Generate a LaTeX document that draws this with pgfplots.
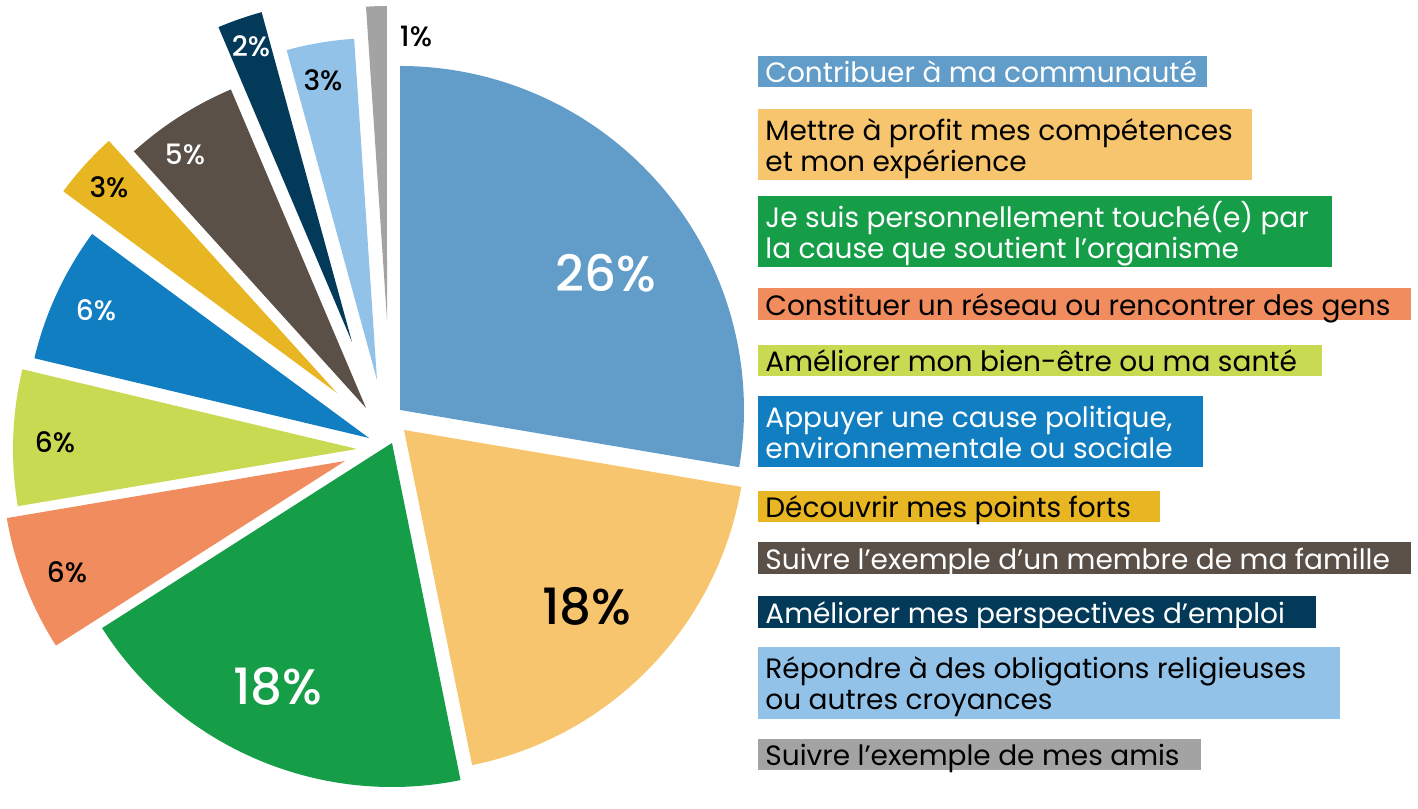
\documentclass[border=0pt]{standalone}
\usepackage{fontspec}
\setmainfont{Poppins}
\newfontfamily\medfont{Poppins Medium}
\usepackage{pgfplots}
\pgfplotsset{compat=1.18}
\definecolor{cA}{HTML}{629DC9}
\definecolor{cB}{HTML}{F7C56D}
\definecolor{cC}{HTML}{159D48}
\definecolor{cD}{HTML}{F08C5D}
\definecolor{cE}{HTML}{C8DA52}
\definecolor{cF}{HTML}{107EC0}
\definecolor{cG}{HTML}{E8B622}
\definecolor{cH}{HTML}{5A5047}
\definecolor{cI}{HTML}{033A5A}
\definecolor{cJ}{HTML}{92C2E8}
\definecolor{cK}{HTML}{A3A3A3}
% apex of a slice, in pixel coordinates of the picture (y downwards)
\newcommand\apex[3]{\coordinate (#1) at (axis cs:#2,{788-#3});}
% #1 cumulative value before slice, #2 value, #3 apex name, #4 radius (px), #5 colour
\newcommand\slice[5]{\fill[#5] (#3) -- ++({90-(#1/94)*360}:{#4*0.5pt}) arc[start angle={90-(#1/94)*360}, delta angle={-(#2/94)*360}, radius={#4*0.5pt}] -- cycle;}
% #1 right x, #2 top y, #3 bottom y, #4 colour
\newcommand\lbox[4]{\fill[#4] (axis cs:758,{788-#2}) rectangle (axis cs:#1,{788-#3});}
\newcommand\ltext[3]{\node[anchor=base west, inner sep=0pt, text=#2, font=\fontsize{14}{16}\selectfont] at (axis cs:765,{786-#1}) {#3};}
\newcommand\plab[5]{\node[anchor=center, inner sep=0pt, text=#4, font=\medfont\fontsize{#5}{#5}\selectfont] at (axis cs:#1,{788-#2}) {#3};}
\begin{document}
\begin{tikzpicture}
\begin{axis}[width=709pt, height=394pt, scale only axis, xmin=0, xmax=1418, ymin=0, ymax=788,
  hide axis, clip=false]
\path (axis cs:0,0) rectangle (axis cs:1418,788);
\apex{pA}{400}{410}
\apex{pB}{404}{430}
\apex{pC}{392}{443}
\apex{pD}{345}{461}
\apex{pE}{357}{449}
\apex{pF}{369}{438}
\apex{pG}{337}{393}
\apex{pH}{366}{408}
\apex{pI}{352}{342}
\apex{pJ}{377}{380}
\apex{pK}{387}{320}
% legend
\lbox{1207}{56}{87}{cA}
\ltext{81}{white}{Contribuer à ma communauté}
\lbox{1252}{109}{180}{cB}
\ltext{139}{black}{Mettre à profit mes compétences}
\ltext{170}{black}{et mon expérience}
\lbox{1332}{196}{267}{cC}
\ltext{226}{white}{Je suis personnellement touché(e) par}
\ltext{257}{white}{la cause que soutient l’organisme}
\lbox{1411}{288}{320}{cD}
\ltext{314}{black}{Constituer un réseau ou rencontrer des gens}
\lbox{1322}{345}{376}{cE}
\ltext{370}{black}{Améliorer mon bien-être ou ma santé}
\lbox{1203}{396}{467}{cF}
\ltext{426}{white}{Appuyer une cause politique,}
\ltext{457}{white}{environnementale ou sociale}
\lbox{1160}{491}{522}{cG}
\ltext{516}{black}{Découvrir mes points forts}
\lbox{1411}{542}{574}{cH}
\ltext{568}{white}{Suivre l’exemple d’un membre de ma famille}
\lbox{1316}{596}{628}{cI}
\ltext{622}{white}{Améliorer mes perspectives d’emploi}
\lbox{1340}{647}{719}{cJ}
\ltext{677}{black}{Répondre à des obligations religieuses}
\ltext{708}{black}{ou autres croyances}
\lbox{1201}{739}{770}{cK}
\ltext{764}{black}{Suivre l’exemple de mes amis}
\end{axis}
% pie slices: values 26,18,18,6,6,6,3,5,2,3,1 (sum 94), apexes from the axis above
\slice{0}{26}{pA}{344}{cA}
\slice{26}{18}{pB}{342}{cB}
\slice{44}{18}{pC}{344}{cC}
\slice{62}{6}{pD}{343}{cD}
\slice{68}{6}{pE}{344}{cE}
\slice{74}{6}{pF}{344}{cF}
\slice{80}{3}{pG}{340}{cG}
\slice{83}{5}{pH}{346}{cH}
\slice{88}{2}{pI}{342}{cI}
\slice{90}{3}{pJ}{342}{cJ}
\slice{93}{1}{pK}{314}{cK}
\begin{axis}[width=709pt, height=394pt, scale only axis, xmin=0, xmax=1418, ymin=0, ymax=788,
  hide axis, clip=false]
% slice labels
\plab{606}{273}{26\%}{white}{25}
\plab{587}{606}{18\%}{black}{25}
\plab{278}{686}{18\%}{white}{25}
\plab{67}{572}{6\%}{black}{14}
\plab{55}{442}{6\%}{black}{14}
\plab{96}{310}{6\%}{white}{14}
\plab{109}{187}{3\%}{black}{14}
\plab{185}{154}{5\%}{white}{14}
\plab{251}{46}{2\%}{white}{14}
\plab{323}{80}{3\%}{black}{14}
\plab{416}{36}{1\%}{black}{14}
\end{axis}
\end{tikzpicture}
\end{document}
